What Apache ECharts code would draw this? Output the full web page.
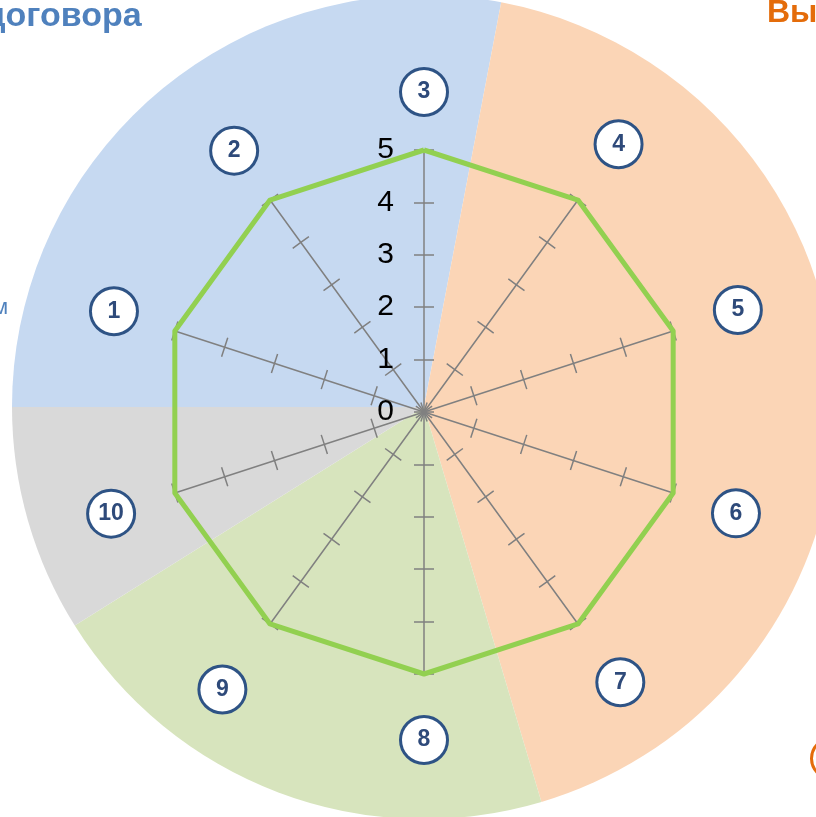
<!DOCTYPE html>
<html>
<head>
<meta charset="utf-8">
<script src="https://cdn.jsdelivr.net/npm/echarts@6/dist/echarts.min.js"></script>
<style>
  html, body { margin: 0; padding: 0; background: #fff; }
  #chart { width: 816px; height: 817px; }
</style>
</head>
<body>
<div id="chart"></div>
<script>
// критерии по часовой стрелке, от 1 до 10
const criteria = ['1', '2', '3', '4', '5', '6', '7', '8', '9', '10'];
const scores = [5, 5, 5, 5, 5, 5, 5, 5, 5, 5];
const scaleMax = 5;

// сектора фона (доля круга, %), по часовой от левого края
const groups = ['группа 1', 'группа 2', 'группа 3', 'группа 4'];
const groupShares = [28, 42.4, 20.7, 8.9];
const groupColors = ['#C6D9F1', '#FBD5B6', '#D7E4BD', '#D9D9D9'];

// отступ кружков с номерами от конца оси
const nameGaps = [64, 61, 58, 69, 68, 66, 72, 66, 81, 67];

const narrow = "'Liberation Sans Narrow', 'Arial Narrow', 'Liberation Sans', sans-serif";

// radar идёт против часовой, поэтому переставляем: 3,2,1,10,...,4
const order = criteria.map((_, i) => (2 - i + criteria.length) % criteria.length);

function indicators(withLabel) {
  return order.map(function (k) {
    const ind = { name: criteria[k], min: 0, max: scaleMax, nameGap: nameGaps[k] };
    if (withLabel && k === 2) ind.axisLabel = { show: true };
    return ind;
  });
}

const chart = echarts.init(document.getElementById('chart'));

chart.setOption({
  animation: false,
  radar: [
    {
      z: 3,
      center: [424, 412],
      radius: 262,
      startAngle: 90,
      splitNumber: 5,
      indicator: indicators(true),
      axisName: {
        show: true,
        align: 'center',
        verticalAlign: 'middle',
        formatter: function (name) { return '{c|' + name + '}'; },
        rich: {
          c: {
            color: '#2E4A7A',
            fontFamily: narrow,
            fontWeight: 'bold',
            fontSize: 23,
            align: 'center',
            backgroundColor: '#fff',
            borderColor: '#2E5385',
            borderWidth: 3,
            borderRadius: 23,
            width: 44,
            height: 44,
            lineHeight: 44
          }
        }
      },
      axisLine: { lineStyle: { color: '#808080', width: 1.5 } },
      axisTick: { show: true, length: 10, lineStyle: { color: '#808080', width: 1.5 } },
      axisLabel: {
        show: false,
        margin: 30,
        color: '#000',
        fontSize: 30,
        fontFamily: narrow
      },
      splitLine: { show: false },
      splitArea: { show: false }
    },
    {
      // вторая половина засечек (с другой стороны оси)
      z: 3,
      center: [424, 412],
      radius: 262,
      startAngle: 90,
      splitNumber: 5,
      indicator: indicators(false),
      axisName: { show: false },
      axisLine: { show: false },
      axisTick: { show: true, length: -10, lineStyle: { color: '#808080', width: 1.5 } },
      axisLabel: { show: false },
      splitLine: { show: false },
      splitArea: { show: false }
    }
  ],
  series: [
    {
      name: 'фон',
      type: 'pie',
      z: 1,
      silent: true,
      center: [424, 407],
      radius: 412,
      startAngle: 180,
      clockwise: true,
      label: { show: false },
      labelLine: { show: false },
      data: groups.map((g, i) => ({ name: g, value: groupShares[i], itemStyle: { color: groupColors[i] } }))
    },
    {
      name: 'оценка',
      type: 'radar',
      radarIndex: 0,
      z: 6,
      symbol: 'none',
      lineStyle: { color: '#92D050', width: 5 },
      data: [{ value: order.map(k => scores[k]) }]
    }
  ],
  graphic: [
    {
      type: 'text', left: -16, top: 0, z: 10,
      style: { text: 'договора', fill: '#4F81BD', fontSize: 34, fontWeight: 'bold', fontFamily: 'Liberation Sans' }
    },
    {
      type: 'text', left: 767, top: -3, z: 10,
      style: { text: 'Вы', fill: '#E46C0A', fontSize: 32, fontWeight: 'bold', fontFamily: 'Liberation Sans' }
    },
    {
      type: 'text', left: -7, top: 297, z: 10,
      style: { text: 'м', fill: '#4F81BD', fontSize: 22, fontFamily: 'Liberation Sans' }
    },
    {
      type: 'circle', left: 810, top: 737, z: 10,
      shape: { r: 20 },
      style: { fill: '#fff', stroke: '#E46C0A', lineWidth: 3 }
    }
  ]
});
</script>
</body>
</html>
